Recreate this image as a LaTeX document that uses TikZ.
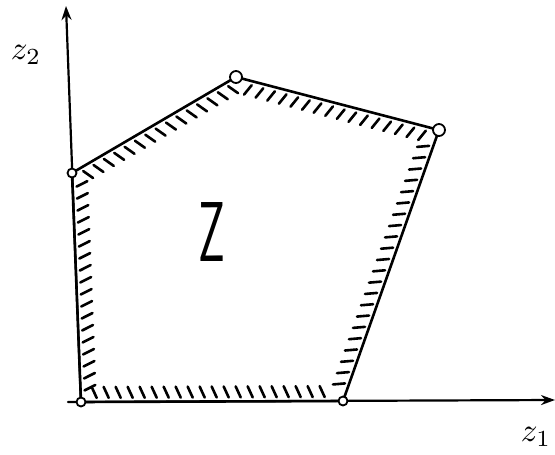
\documentclass[tikz,border=0pt]{standalone}
\usetikzlibrary{arrows.meta,decorations.markings}
\begin{document}
\begin{tikzpicture}[x=1pt,y=-1pt,line cap=round,line join=round]
\tikzset{
  axisline/.style={line width=2.2pt,-{Stealth[length=14pt,width=10pt]}},
  edgeline/.style={line width=2.6pt},
  tickmark/.style={line width=2.6pt},
  vtx/.style={circle,draw,fill=white,line width=1.8pt,inner sep=0pt,minimum size=10pt},
  hatchA/.style={decoration={markings,
      mark=between positions 0.06 and 0.96 step 12pt with {\draw[tickmark] (0pt,4pt) -- (-5pt,15pt);}},
      postaction={decorate}},
  hatchB/.style={decoration={markings,
      mark=between positions 0.06 and 0.96 step 12pt with {\draw[tickmark] (0pt,4pt) -- (5pt,15pt);}},
      postaction={decorate}},
  lbl/.style={inner sep=0pt}
}
\useasboundingbox (0,0) rectangle (555,455);
% vertices
\coordinate (O) at (81,402);
\coordinate (B) at (343,401);
\coordinate (R) at (439,130);
\coordinate (T) at (236,77);
\coordinate (L) at (72,173);
% axes
\coordinate (ybot) at (81,405);
\coordinate (ytop) at (66,6);
\coordinate (xleft) at (68,402);
\coordinate (xright) at (555,400);
\draw[axisline] (ybot) -- (ytop);
\draw[axisline] (xleft) -- (xright);
% polygon edges with inner hatching
\draw[edgeline,hatchA] (O) -- (B);
\draw[edgeline,hatchA] (B) -- (R);
\draw[edgeline,hatchB] (R) -- (T);
\draw[edgeline,hatchA] (T) -- (L);
\draw[edgeline,hatchA] (L) -- (O);
% vertex circles
\node[vtx,minimum size=9pt] (vO) at (O) {};
\node[vtx,minimum size=9pt] (vB) at (B) {};
\node[vtx,minimum size=12pt] (vR) at (R) {};
\node[vtx,minimum size=12pt] (vT) at (T) {};
\node[vtx,minimum size=9pt] (vL) at (L) {};
% labels
\node[lbl] (z2) at (26,55) {\scalebox{3.3}{$z_2$}};
\node[lbl] (z1) at (536,437) {\scalebox{3.3}{$z_1$}};
\node[lbl] (Zset) at (212,232) {\scalebox{0.55}[1.0]{\fontsize{85}{85}\selectfont\sffamily Z}};
\end{tikzpicture}
\end{document}
